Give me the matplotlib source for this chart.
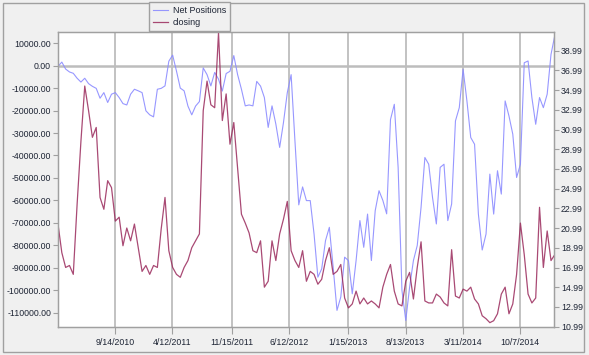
import numpy as np
import pandas as pd
import matplotlib
matplotlib.use("Agg")
import matplotlib.pyplot as plt
from matplotlib.patches import Rectangle

# data (one point every two weeks)
start_date = "2010-02-17"
net_positions_k = [
    -0.3, 1.6, -1.5, -2.8, -3.4, -5.6, -7.3, -5.6, -8.0, -9.2,
    -10.1, -14.5, -12.0, -16.4, -12.7, -12.0, -14.2, -16.9, -17.5, -12.7,
    -10.5, -11.2, -12.0, -20.1, -21.9, -22.8, -10.5, -10.1, -9.0, 2.0,
    4.7, -2.4, -10.0, -11.2, -18.0, -21.9, -18.0, -16.0, -1.0, -4.0,
    -9.0, -3.0, -6.0, -11.3, -3.5, -2.5, 4.5, -4.0, -10.5, -17.9,
    -17.5, -17.9, -7.0, -9.1, -14.2, -27.5, -17.9, -26.0, -36.4, -25.3,
    -12.0, -4.0, -33.5, -62.0, -54.0, -60.1, -60.1, -75.0, -94.2, -90.5,
    -77.9, -72.0, -89.8, -109.0, -103.0, -85.3, -86.8, -101.6, -86.8, -69.0,
    -80.9, -66.1, -86.8, -64.6, -55.7, -60.0, -66.0, -24.0, -17.2, -45.3,
    -100.1, -113.5, -98.7, -86.8, -80.1, -63.1, -40.9, -43.9, -58.7, -70.5,
    -45.3, -43.9, -69.0, -61.6, -24.6, -18.7, -1.6, -15.7, -32.0, -35.0,
    -66.1, -82.1, -75.0, -48.3, -66.1, -46.8, -57.2, -15.7, -22.4, -30.5,
    -49.8, -43.9, 1.3, 2.1, -14.2, -26.1, -14.2, -18.7, -12.7, 5.0,
    13.5]
closing = [
    21.4, 18.5, 17.0, 17.2, 16.3, 23.4, 29.8, 35.4, 32.9, 30.2,
    31.2, 24.1, 22.9, 25.8, 25.1, 21.7, 22.1, 19.2, 21.0, 19.7,
    21.4, 19.0, 16.6, 17.2, 16.3, 17.2, 17.0, 20.9, 24.1, 18.7,
    17.0, 16.3, 16.0, 17.0, 17.7, 19.0, 19.7, 20.4, 32.9, 35.9,
    33.5, 33.2, 40.8, 31.9, 34.6, 29.5, 31.7, 27.1, 22.4, 21.5,
    20.5, 18.7, 18.5, 19.7, 15.0, 15.6, 19.7, 17.7, 20.4, 21.9,
    23.7, 18.7, 17.7, 17.0, 18.7, 15.6, 16.6, 16.3, 15.3, 15.8,
    17.7, 19.0, 16.3, 16.6, 17.3, 13.9, 12.9, 13.3, 14.6, 13.3,
    13.9, 13.3, 13.6, 13.3, 12.9, 15.0, 16.3, 17.3, 14.6, 13.3,
    13.1, 15.6, 16.5, 13.8, 17.0, 19.6, 13.6, 13.4, 13.4, 14.3,
    14.0, 13.4, 13.1, 18.8, 14.1, 13.9, 14.8, 14.6, 15.0, 13.8,
    13.3, 12.1, 11.8, 11.4, 11.6, 12.3, 14.3, 15.0, 12.3, 13.3,
    16.3, 21.5, 18.3, 14.3, 13.4, 13.9, 23.1, 17.0, 20.7, 17.7,
    18.3]

date_ticks = ["2010-09-14", "2011-04-12", "2011-11-15", "2012-06-12",
              "2013-01-15", "2013-08-13", "2014-03-11", "2014-10-07"]
date_labels = ["9/14/2010", "4/12/2011", "11/15/2011", "6/12/2012",
               "1/15/2013", "8/13/2013", "3/11/2014", "10/7/2014"]
left_ticks = list(range(10000, -120000, -10000))
right_ticks = [10.99 + 2 * k for k in range(15)]

dates = pd.date_range(start_date, periods=len(closing), freq="14D")
net_positions = np.array(net_positions_k) * 1000

plt.rcParams["font.family"] = ["Liberation Sans", "DejaVu Sans"]
txt = "#1e2535"
edge = "#a0a0a0"
bg = "#f0f0f0"

fig = plt.figure(figsize=(5.89, 3.55), dpi=100, facecolor=bg)
ax = fig.add_axes([58 / 589, 28 / 355, 496 / 589, 295 / 355])
ax.set_facecolor("white")
ax2 = ax.twinx()

l1, = ax.plot(dates, net_positions, color="#8c8cff", lw=0.8, alpha=0.9)
l2, = ax2.plot(dates, closing, color="#9a2a5c", lw=0.9, alpha=0.85)

ax.set_xlim(pd.Timestamp("2010-02-17"), pd.Timestamp("2015-02-08"))
ax.set_ylim(-116400, 15000)
ax2.set_ylim(10.96, 40.88)

ax.set_xticks(pd.to_datetime(date_ticks))
ax.set_xticklabels(date_labels)
ax.set_yticks(left_ticks)
ax.set_yticklabels(["%.2f" % v for v in left_ticks])
ax2.set_yticks(right_ticks)
ax2.set_yticklabels(["%.2f" % v for v in right_ticks])

ax.grid(axis="x", color="#bdbdbd", lw=1.3)
ax.axhline(0, color="#bdbdbd", lw=1.8, zorder=1)

for a in (ax, ax2):
    for s in a.spines.values():
        s.set_color(edge)
        s.set_linewidth(0.9)
    a.tick_params(colors=edge, labelcolor=txt, labelsize=6.3, length=3.5, width=0.8, pad=1.5)
ax.tick_params(axis="x", length=5, pad=3)

fig.legend([l1, l2], ["Net Positions", "closing"], loc="upper left",
           bbox_to_anchor=(149 / 589, 1 - 2 / 355), borderaxespad=0,
           fontsize=6.5, fancybox=False, framealpha=1, facecolor=bg,
           edgecolor=edge, handlelength=1.6, handletextpad=0.6,
           borderpad=0.45, labelspacing=0.3, labelcolor=txt)

fig.patches.append(Rectangle((3 / 589, 3 / 355), 581 / 589, 349 / 355,
                             transform=fig.transFigure, fill=False,
                             edgecolor=edge, lw=1))

fig.savefig("out.png", dpi=100, facecolor=bg)
